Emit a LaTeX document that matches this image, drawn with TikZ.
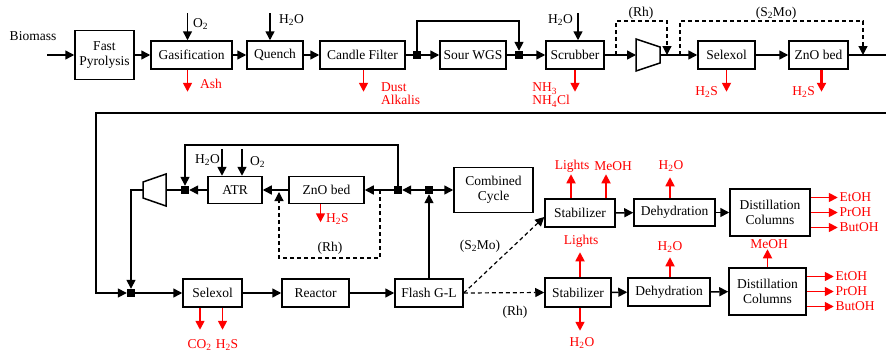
\documentclass[tikz,border=0pt]{standalone}
\usepackage{fontspec}
\setmainfont{Liberation Serif}
\usetikzlibrary{arrows.meta}
\definecolor{ink}{HTML}{000000}
\definecolor{outRed}{HTML}{FF0000}
\tikzset{
  unit/.style={draw=ink, line width=1.5pt, inner sep=1pt, minimum height=28pt, align=center, font=\fontsize{13.5}{15}\selectfont},
  joint/.style={fill=ink, minimum size=8pt, inner sep=0pt},
  pipe/.style={draw=ink, line width=1.5pt},
  flow/.style={pipe, -{Triangle[length=9pt,width=9pt]}},
  bypass/.style={draw=ink, line width=1.2pt, dash pattern=on 4pt off 3pt, -{Triangle[length=9pt,width=9pt]}},
  drain/.style={draw=outRed, line width=1.7pt, -{Triangle[length=9pt,width=9pt]}},
  tag/.style={inner sep=1pt, font=\fontsize{13.5}{13}\selectfont},
  redtag/.style={tag, text=outRed},
}

\begin{document}
\begin{tikzpicture}[x=1pt, y=-1pt]
\useasboundingbox (0,0) rectangle (886,356);

% upper line
\node[tag] (biomass) at (33,36) {Biomass};
\coordinate (feed) at (47,55);
\node[unit, minimum width=59pt, minimum height=49pt] (pyro) at (104.5,55) {Fast\\Pyrolysis};
\node[unit, minimum width=81pt] (gasif) at (191.5,55) {Gasification};
\node[unit, minimum width=56pt] (quench) at (275,55) {Quench};
\node[unit, minimum width=85pt] (candle) at (362.5,55) {Candle Filter};
\node[joint] (j1) at (417,55) {};
\node[unit, minimum width=66pt] (wgs) at (473,55) {Sour WGS};
\node[joint] (j2) at (519,55) {};
\node[unit, minimum width=58pt] (scrub) at (575,55) {Scrubber};
\draw[pipe] (636,39) -- (660,47) -- (660,63) -- (636,71) -- cycle;
\coordinate (c1in) at (636,55);
\coordinate (c1out) at (660,55);
\node[unit, minimum width=57pt] (sel1) at (726.5,55) {Selexol};
\node[unit, minimum width=59pt] (zno1) at (818.5,55) {ZnO bed};
\coordinate (edgeTop) at (886,55);

\draw[flow] (feed) -- (pyro);
\draw[flow] (pyro) -- (gasif);
\draw[flow] (gasif) -- (quench);
\draw[flow] (quench) -- (candle);
\draw[pipe] (candle) -- (j1);
\draw[flow] (j1) -- (wgs);
\draw[pipe] (wgs) -- (j2);
\draw[flow] (j2) -- (scrub);
\draw[flow] (j1.north) -- ++(0,-30) -| (j2.north);
\draw[flow] (scrub) -- (c1in);
\draw[flow] (c1out) -- (sel1);
\draw[flow] (sel1) -- (zno1);
\draw[pipe] (zno1) -- (edgeTop);

% catalyst options
\coordinate (rhSplit) at (616,55);
\coordinate (rhJoin) at (667,55);
\draw[bypass] (rhSplit) -- ++(0,-34) -| (rhJoin);
\node[tag] (rhTop) at (641,13) {(Rh)};
\coordinate (moSplit) at (680,55);
\coordinate (moJoin) at (863,55);
\draw[bypass] (moSplit) -- ++(0,-34) -| (moJoin);
\node[tag] (moTop) at (776,13) {(S\textsubscript{2}Mo)};

% feeds and purges
\draw[flow] ([xshift=-4pt,yshift=27pt]gasif.north) -- ([xshift=-4pt]gasif.north);
\node[tag, anchor=west] (o2a) at (192,24) {O\textsubscript{2}};
\draw[flow] ([xshift=-5pt,yshift=27pt]quench.north) -- ([xshift=-5pt]quench.north);
\node[tag, anchor=west] (h2oa) at (278,20) {H\textsubscript{2}O};
\draw[flow] ([xshift=3pt,yshift=27pt]scrub.north) -- ([xshift=3pt]scrub.north);
\node[tag, anchor=east] (h2ob) at (574,20) {H\textsubscript{2}O};
\draw[drain] ([xshift=-4pt]gasif.south) -- ++(0,22);
\node[redtag, anchor=west] (ash) at (199,84) {Ash};
\draw[drain] ([xshift=1pt]candle.south) -- ++(0,22);
\node[redtag, anchor=west, align=left] (dust) at (380,94) {Dust\\Alkalis};
\draw[drain] (scrub.south) -- ++(0,22);
\node[redtag, anchor=east, align=left] (nh3) at (571,95) {NH\textsubscript{3}\\NH\textsubscript{4}Cl};
\draw[drain] (sel1.south) -- ++(0,22);
\node[redtag, anchor=east] (h2sa) at (719,92) {H\textsubscript{2}S};
\draw[drain, line width=2.4pt] ([xshift=3pt]zno1.south) -- ++(0,22);
\node[redtag, anchor=east] (h2sb) at (816,92) {H\textsubscript{2}S};

% recycle to lower line
\coordinate (edgeLow) at (886,113);
\coordinate (loopCorner) at (96,113);
\node[joint] (j6) at (131,293) {};
\draw[flow] (edgeLow) -- (loopCorner) |- (j6);

% reforming loop
\draw[pipe] (143,182) -- (166,174) -- (166,206) -- (143,198) -- cycle;
\coordinate (c2in) at (166,190);
\coordinate (c2out) at (143,190);
\node[joint] (j3) at (185,190) {};
\node[unit, minimum width=54pt, minimum height=27pt] (atr) at (235,190) {ATR};
\node[unit, minimum width=75pt, minimum height=27pt] (zno2) at (326.5,190) {ZnO bed};
\node[joint] (j4) at (398,190) {};
\node[joint] (j5) at (429,190) {};
\node[unit, minimum width=79pt, minimum height=45pt] (cc) at (493.5,190) {Combined\\Cycle};

\draw[flow] (j5) -- (j4);
\draw[flow] (j5) -- (cc);
\draw[flow] (j4) -- (zno2);
\draw[flow] (zno2) -- (atr);
\draw[flow] (atr) -- (j3);
\draw[pipe] (j3) -- (c2in);
\draw[flow] (c2out) -| (j6.north);
\draw[flow] (j4.north) -- ++(0,-41) -| (j3.north);
\draw[flow] ([xshift=-13pt,yshift=27pt]atr.north) -- ([xshift=-13pt]atr.north);
\node[tag, anchor=east] (h2oc) at (221,160) {H\textsubscript{2}O};
\draw[flow] ([xshift=7pt,yshift=27pt]atr.north) -- ([xshift=7pt]atr.north);
\node[tag, anchor=west] (o2b) at (249,162) {O\textsubscript{2}};
\draw[drain] ([xshift=-6pt]zno2.south) -- ++(0,18);
\node[redtag, anchor=west] (h2sc) at (325,219) {H\textsubscript{2}S};
\coordinate (rhOut) at (380,190);
\coordinate (rhIn) at (279,192);
\draw[bypass] (rhOut) -- ++(0,68) -| (rhIn);
\node[tag] (rhMid) at (330,248) {(Rh)};

% synthesis line
\node[unit, minimum width=59pt] (sel2) at (212.5,293) {Selexol};
\node[unit, minimum width=67pt] (reac) at (315.5,293) {Reactor};
\node[unit, minimum width=68pt] (flash) at (429,293) {Flash G-L};
\draw[flow] (j6) -- (sel2);
\draw[flow] (sel2) -- (reac);
\draw[flow] (reac) -- (flash);
\draw[flow] (flash) -- (j5);
\draw[drain] ([xshift=-12.5pt]sel2.south) -- ++(0,22);
\draw[drain] ([xshift=10pt]sel2.south) -- ++(0,22);
\node[redtag] (co2) at (199.5,345) {CO\textsubscript{2}};
\node[redtag] (h2sd) at (227,345) {H\textsubscript{2}S};

% alcohol separation
\node[unit, minimum width=70pt] (stab1) at (580,213) {Stabilizer};
\node[unit, minimum width=81pt, minimum height=27pt] (dehy1) at (674.5,212.5) {Dehydration};
\node[unit, minimum width=80pt, minimum height=47pt] (dist1) at (770,212.5) {Distillation\\Columns};
\node[unit, minimum width=66pt, minimum height=29pt] (stab2) at (578,292.5) {Stabilizer};
\node[unit, minimum width=82pt] (dehy2) at (669,292) {Dehydration};
\node[unit, minimum width=77pt, minimum height=47pt] (dist2) at (767.5,291.5) {Distillation\\Columns};

\draw[bypass] (flash.east) -- ([yshift=-4pt]stab1.west);
\draw[bypass] (flash.east) -- (stab2.west);
\node[tag] (moMid) at (480,246) {(S\textsubscript{2}Mo)};
\node[tag] (rhLow) at (515,312) {(Rh)};
\draw[flow] (stab1) -- (dehy1);
\draw[flow] (dehy1) -- (dist1);
\draw[flow] (stab2) -- (dehy2);
\draw[flow] (dehy2) -- (dist2);

\draw[drain] ([xshift=-9pt]stab1.north) -- ++(0,-24);
\node[redtag] (lightsa) at (572,166) {Lights};
\draw[drain] ([xshift=26pt]stab1.north) -- ++(0,-24);
\node[redtag] (meoha) at (613,166) {MeOH};
\draw[drain] ([xshift=-4.5pt]dehy1.north) -- ++(0,-21);
\node[redtag] (h2od) at (671,166) {H\textsubscript{2}O};
\foreach \dy/\prod in {15/EtOH, 0/PrOH, -15/ButOH} {
  \draw[drain] ([yshift=\dy pt]dist1.east) -- ++(27,0) node[redtag, anchor=west] (d1-\prod) {\prod};
  \draw[drain] ([yshift=\dy pt]dist2.east) -- ++(27,0) node[redtag, anchor=west] (d2-\prod) {\prod};
}
\draw[drain] ([xshift=2pt]stab2.north) -- ++(0,-25);
\node[redtag] (lightsb) at (581,241) {Lights};
\draw[drain] ([xshift=2pt]stab2.south) -- ++(0,23);
\node[redtag] (h2oe) at (582,343) {H\textsubscript{2}O};
\draw[drain] ([xshift=1pt]dehy2.north) -- ++(0,-20);
\node[redtag] (h2of) at (670,247) {H\textsubscript{2}O};
\draw[drain] (dist2.north) -- ++(0,-18);
\node[redtag] (meohb) at (769,244) {MeOH};
\end{tikzpicture}
\end{document}
